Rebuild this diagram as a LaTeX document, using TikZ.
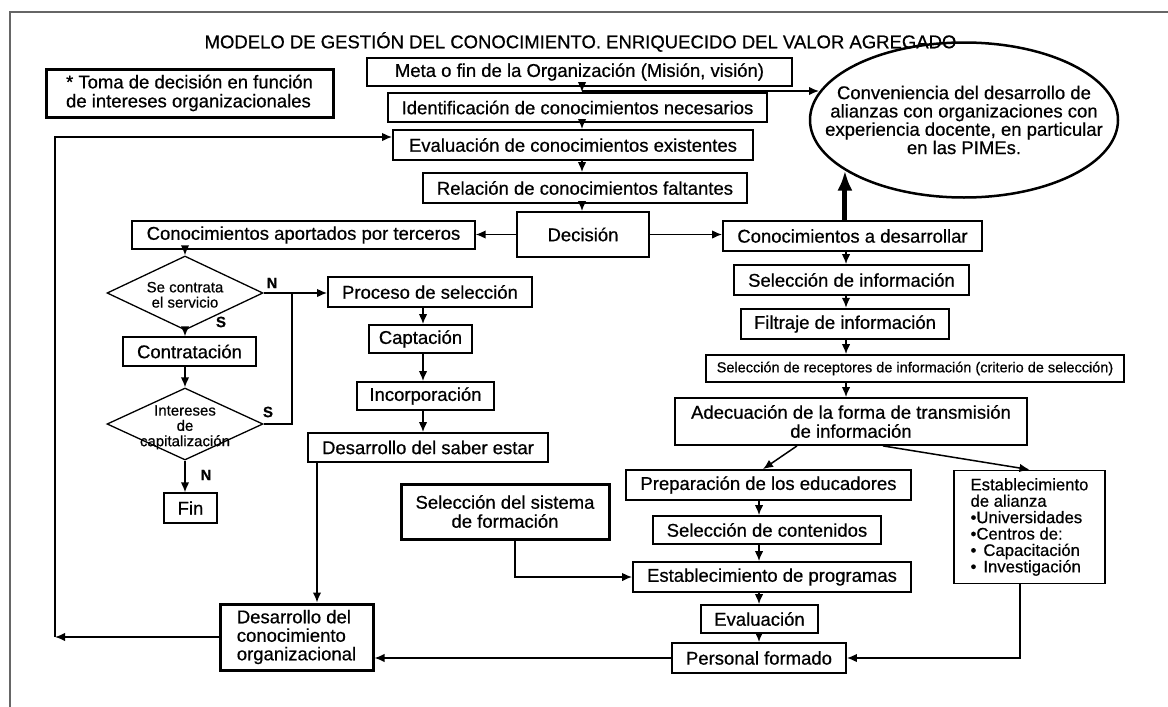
\documentclass[tikz,border=0pt]{standalone}
\usepackage{fontspec}
\setmainfont{Liberation Sans}[FakeBold=0.6]
\usetikzlibrary{shapes.geometric,arrows.meta}

% text of a decision diamond: centred, taking no room of its own
\newcommand{\dmtext}[1]{\raisebox{-.5em}[0pt][0pt]{\makebox[0pt]{\begin{tabular}{@{}c@{}}#1\end{tabular}}}}

\tikzset{
  box/.style={draw, rectangle, line width=1.8pt, inner sep=0pt, align=center},
  thinbox/.style={box, line width=1.3pt},
  boldbox/.style={box, line width=3pt},
  dec/.style={draw, diamond, line width=1.3pt, inner sep=0pt, font=\fontsize{15}{14.5}\selectfont},
  lab/.style={font=\fontsize{15}{15}\selectfont\bfseries},
  arr/.style={-{Latex[length=10pt,width=8.5pt]}, line width=1.5pt},
  ln/.style={line width=1.5pt},
  bigarr/.style={-{Latex[length=20pt,width=15pt]}, line width=5pt},
  frame/.style={draw=black!60, line width=2pt}
}

\begin{document}
\begin{tikzpicture}[x=1pt, y=-1pt, every node/.style={font=\fontsize{18.5}{19}\selectfont}]
\useasboundingbox (0,0) rectangle (1168,707);
\fill[white] (0,0) rectangle (1168,707);
\draw[frame] (10,707) -- (10,12) -- (1168,12);

% title and note
\node (title) at (580.5,42) {MODELO DE GESTIÓN DEL CONOCIMIENTO. ENRIQUECIDO DEL VALOR AGREGADO};
\node[boldbox, align=left, minimum width=287pt, minimum height=48pt] (toma) at (189.5,93)
  {* Toma de decisión en función\\de intereses organizacionales};

% main column
\node[box, minimum width=425pt, minimum height=28pt] (meta) at (579.5,72) {Meta o fin de la Organización (Misión, visión)};
\node[box, minimum width=379pt, minimum height=29pt] (ident) at (577.5,107.5) {Identificación de conocimientos necesarios};
\node[box, minimum width=360pt, minimum height=30pt] (evalc) at (573,145) {Evaluación de conocimientos existentes};
\node[box, minimum width=324pt, minimum height=30pt] (relac) at (585,188) {Relación de conocimientos faltantes};
\node[box, minimum width=132pt, minimum height=45pt] (decis) at (583,234.5) {Decisión};
\node[thinbox, minimum width=343pt, minimum height=28pt] (aport) at (303.5,235) {Conocimientos aportados por terceros};
\node[box, minimum width=259pt, minimum height=30pt] (desarr) at (852.5,236) {Conocimientos a desarrollar};

\node[draw, ellipse, line width=2.5pt, minimum width=308pt, minimum height=155pt,
      inner xsep=-35pt, inner ysep=0pt, align=center, font=\fontsize{18.5}{18.3}\selectfont] (ell) at (964,120)
  {Conveniencia del desarrollo de\\alianzas con organizaciones con\\experiencia docente, en particular\\en las PIMEs.};

% knowledge to develop
\node[box, minimum width=235pt, minimum height=30pt] (selinfo) at (851.5,280) {Selección de información};
\node[box, line width=2.4pt, minimum width=208pt, minimum height=30pt] (filtr) at (845,324) {Filtraje de información};
\node[box, minimum width=418pt, minimum height=27pt, font=\fontsize{14.5}{15}\selectfont] (recep) at (915,368.5)
  {Selección de receptores de información (criterio de selección)};
\node[box, minimum width=352pt, minimum height=47pt] (adecu) at (851,421.5) {Adecuación de la forma de transmisión\\de información};

\node[box, minimum width=285pt, minimum height=30pt] (prep) at (768.5,485) {Preparación de los educadores};
\node[box, minimum width=228pt, minimum height=28pt] (selcont) at (767,530) {Selección de contenidos};
\node[box, minimum width=278pt, minimum height=30pt] (estprog) at (772,577) {Establecimiento de programas};
\node[box, minimum width=117pt, minimum height=28pt] (evalu) at (759.5,619) {Evaluación};
\node[box, minimum width=174pt, minimum height=30pt] (persf) at (759,658) {Personal formado};
\node[box, align=left, minimum width=151pt, minimum height=113pt, font=\fontsize{16.7}{16.4}\selectfont] (alian) at (1029.5,527)
  {Establecimiento\\de alianza\\•Universidades\\•Centros de:\\•\hspace{7pt}Capacitación\\•\hspace{7pt}Investigación};

% hiring branch
\node[box, minimum width=204pt, minimum height=30pt] (proc) at (430,292) {Proceso de selección};
\node[box, minimum width=103pt, minimum height=28pt] (capt) at (420.5,339) {Captación};
\node[box, minimum width=137pt, minimum height=28pt] (incorp) at (425.5,396) {Incorporación};
\node[box, minimum width=240pt, minimum height=29pt] (saber) at (428,447.5) {Desarrollo del saber estar};

% third-party branch
\node[dec, minimum width=156pt, minimum height=74pt] (d1) at (185,293) {\dmtext{Se contrata\\el servicio}};
\node[thinbox, minimum width=133pt, minimum height=29pt] (contr) at (189.5,351.5) {Contratación};
\node[dec, minimum width=156pt, minimum height=72pt] (d2) at (185,424) {\dmtext{Intereses\\de\\capitalización}};
\node[thinbox, minimum width=53pt, minimum height=30pt] (fin) at (190.5,508) {Fin};
\node[lab] (n1) at (272,283) {N};
\node[lab] (s1) at (221,322) {S};
\node[lab] (s2) at (268,412) {S};
\node[lab] (n2) at (206,475) {N};

% results
\node[boldbox, minimum width=208pt, minimum height=55pt] (sistema) at (505,511.5) {Selección del sistema\\de formación};
\node[boldbox, align=left, minimum width=153pt, minimum height=66pt, font=\fontsize{18.5}{18.5}\selectfont] (desorg) at (296.5,637)
  {Desarrollo del\\conocimiento\\organizacional};

% guide positions for the connectors
\coordinate (spA) at (582,0);
\coordinate (spB) at (846,0);
\coordinate (spC) at (759,0);
\coordinate (spD) at (423,0);
\coordinate (xs) at (515,0);
\coordinate (xal) at (1020,0);
\coordinate (xsb) at (317,0);
\coordinate (xa1) at (797,0);
\coordinate (xa2) at (883,0);
\coordinate (xt1) at (763,0);
\coordinate (xj) at (292,0);
\coordinate (j1) at (582,91);
\coordinate (fbt) at (55,137);
\coordinate (fbb) at (55,637);

% main column
\draw[arr] (meta.south -| spA) -- (ident.north -| spA);
\draw[arr] (ident.south -| spA) -- (evalc.north -| spA);
\draw[arr] (evalc.south -| spA) -- (relac.north -| spA);
\draw[arr] (relac.south -| spA) -- (decis.north -| spA);
\draw[arr] (j1) -- (j1 -| ell.169);
\draw[arr] (decis.west) -- (decis.west -| aport.east);
\draw[arr] (decis.east) -- (decis.east -| desarr.west);
\draw[bigarr] (ell.203 |- desarr.north) -- (ell.203);

% right column
\draw[arr] (desarr.south -| spB) -- (selinfo.north -| spB);
\draw[arr] (selinfo.south -| spB) -- (filtr.north -| spB);
\draw[arr] (filtr.south -| spB) -- (recep.north -| spB);
\draw[arr] (recep.south -| spB) -- (adecu.north -| spB);
\draw[arr] (xa1 |- adecu.south) -- (xt1 |- prep.north);
\draw[arr] (xa2 |- adecu.south) -- (alian.north);

\draw[arr] (prep.south -| spC) -- (selcont.north -| spC);
\draw[arr] (selcont.south -| spC) -- (estprog.north -| spC);
\draw[arr] (estprog.south -| spC) -- (evalu.north -| spC);
\draw[arr] (evalu.south -| spC) -- (persf.north -| spC);
\draw[arr] (xal |- alian.south) |- (persf.east);
\draw[arr] (xs |- sistema.south) |- (estprog.west);
\draw[arr] (persf.west) -- (persf.west -| desorg.east);

% hiring branch
\draw[arr] (proc.south -| spD) -- (capt.north -| spD);
\draw[arr] (capt.south -| spD) -- (incorp.north -| spD);
\draw[arr] (incorp.south -| spD) -- (saber.north -| spD);
\draw[arr] (xsb |- saber.south) -- (xsb |- desorg.north);

% third-party branch
\draw[arr] (d1.north |- aport.south) -- (d1.north);
\draw[arr] (d1.south) -- (d1.south |- contr.north);
\draw[arr] (d2.north |- contr.south) -- (d2.north);
\draw[arr] (d2.south) -- (d2.south |- fin.north);
\draw[arr] (d1.east) -- (d1.east -| proc.west);
\draw[ln] (d2.east) -| (xj |- d1.east);

% feedback loop
\draw[arr] (desorg.west) -- (fbb);
\draw[arr] (fbb) -- (fbt) -- (fbt -| evalc.west);
\end{tikzpicture}
\end{document}
